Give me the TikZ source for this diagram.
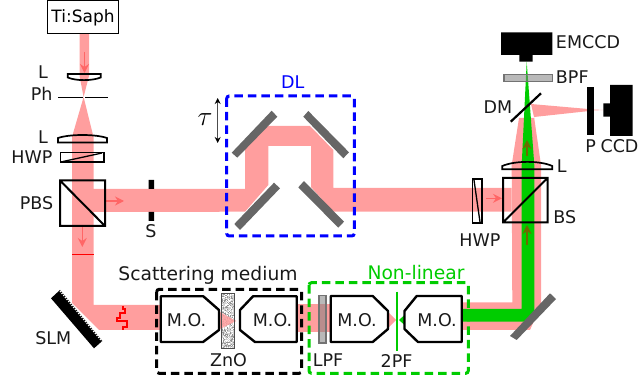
\documentclass[tikz,border=0pt]{standalone}
\usepackage{fontspec}
\setmainfont{DejaVu Sans}
\usetikzlibrary{arrows.meta}
\definecolor{beam}{HTML}{FF9E9E}
\definecolor{grn}{HTML}{00CC00}
\definecolor{arrowred}{HTML}{FF6666}
\definecolor{mirrorgray}{HTML}{666666}
\definecolor{olive}{HTML}{6B6B00}
\tikzset{
 x=1pt,y=-1pt,
 lbl/.style={inner sep=0pt,font=\fontsize{17.5}{18}\selectfont,text=black!90},
 biglbl/.style={inner sep=0pt,font=\fontsize{18.7}{19}\selectfont,text=black!90},
 optic/.style={draw=black,line width=2pt,fill=none,line join=miter},
 lens/.style={draw=black,line width=1.7pt,fill=none,line join=miter},
 mirror/.style={fill=mirrorgray,draw=none},
 beamfill/.style={fill=beam,draw=none},
 greenfill/.style={fill=grn,draw=none},
 mo/.style={draw=black,line width=2.4pt,line join=round},
 inbeam/.style={draw=arrowred,line width=1.4pt,-{Stealth[length=9pt,width=9pt,inset=3pt]}},
 upbeam/.style={draw=olive,line width=1.4pt,-{Stealth[length=9pt,width=9pt,inset=3pt]}},
 filt/.style={draw=gray!90!black,line width=1.2pt,fill=gray,fill opacity=.55},
 dbox/.style={line width=3pt,dash pattern=on 8.5pt off 5pt,rounded corners=2.5pt},
}
\begin{document}
\begin{tikzpicture}
\useasboundingbox (0,0) rectangle (641,385);
% beams
\fill[beamfill] (79.5,34) -- (89,34) -- (89,76) -- (83.6,97) -- (93.5,137) -- (93.5,189) -- (245,189)
  -- (245,148) -- (268,126) -- (310,126) -- (333.3,150) -- (333.3,188) -- (511.7,188)
  -- (511.7,211.7) -- (333,211.7) -- (311,187) -- (311,146) -- (268.3,146) -- (268.3,185) -- (245,211.7)
  -- (93.5,212) -- (93.5,305) -- (160,305) -- (160,330) -- (99,330) -- (72,303) -- (72,137) -- (83.6,97) -- (79.5,76) -- cycle;
\fill[beamfill] (218,312) -- (236,321) -- (218,329) -- cycle;
\fill[beamfill] (297,304) -- (331,304) -- (331,332) -- (297,332) -- cycle;
\fill[beamfill] (388,312) -- (396,320) -- (388,328) -- cycle;
\fill[beamfill] (462,302.3) -- (512.3,302.3) -- (511.7,165) -- (519,118) -- (534,118) -- (534,116.5)
  -- (541,165) -- (541,305) -- (530,330) -- (462,330) -- cycle;
\fill[beamfill] (531,104) -- (594,109.5) -- (603,110) -- (594,110.5) -- (534,117) -- cycle;
\fill[greenfill] (462,309) -- (521.7,309) -- (521.7,165) -- (526.7,61.7) -- (534.3,165) -- (534.3,316) -- (529,321.7) -- (462,321.7) -- cycle;
\fill[greenfill] (404.5,315) -- (404.5,325) -- (399,320) -- cycle;
% in-beam arrows
\path (84.5,52) coordinate (a1s) (84.5,73) coordinate (a1e)
      (106,201) coordinate (a2s) (124,201) coordinate (a2e)
      (82.3,227) coordinate (a3s) (82.3,247) coordinate (a3e)
      (486,198.3) coordinate (a4s) (502,198.3) coordinate (a4e)
      (527,156) coordinate (a5s) (527,140) coordinate (a5e)
      (527,245) coordinate (a6s) (527,225) coordinate (a6e);
\draw[inbeam] (a1s) -- (a1e);
\draw[inbeam] (a2s) -- (a2e);
\draw[inbeam] (a3s) -- (a3e);
\draw[inbeam] (a4s) -- (a4e);
\draw[upbeam] (a5s) -- (a5e);
\draw[upbeam] (a6s) -- (a6e);
% source
\node[draw=black,line width=1pt,fill=white,minimum width=71pt,minimum height=33pt,inner sep=0pt,anchor=center,font=\fontsize{17}{18}\selectfont] (src) at (83,17.5) {Ti:Saph};
% lenses
\draw[lens] (67.7,74) -- (100.7,74) -- (100.7,77.5) .. controls (92,81) and (76,81) .. (67.7,77.5) -- cycle;
\draw[lens] (58,142.5) -- (107,142.5) -- (107,138) .. controls (95,134) and (70,134) .. (58,138) -- cycle;
\draw[lens] (502.3,169.3) -- (552.3,169.3) -- (552.3,166) .. controls (540,160.5) and (515,160.5) .. (502.3,166) -- cycle;
% pinhole
\draw[line width=.8pt] (58,97.3) -- (82.5,97.3) (85,97.3) -- (108,97.3);
% HWP
\draw[lens] (60.5,152.5) rectangle (104,162);
\draw[line width=1.3pt] (63,161.5) -- (102,153);
\draw[lens] (472.5,178.7) rectangle (482,223.3);
\draw[line width=1.3pt] (474,180) -- (480,222);
% PBS, BS
\draw[optic] (60,180.5) rectangle (105,226) (60,180.5) -- (105,226);
\draw[optic] (503,178) rectangle (547.5,222.5) (503,222.5) -- (547.5,178);
% shutter
\fill[black] (148.5,180) rectangle (154,189) (148.5,212) rectangle (154,221);
% waveplate line
\draw[red,line width=1.3pt] (72,254.5) -- (93.5,254.5);
% SLM
\fill[black] (51,298.3) -- (60,290) -- (102.3,341) -- (94,348.3) -- cycle;
\draw[white,line width=1.3pt,dash pattern=on 1.3pt off 1.3pt] (60,291) -- (101.7,341);
% pulse
\draw[red,line width=1.7pt,line join=miter] (122.7,306) -- (122.7,309) -- (125,309) -- (125,312.7) -- (120,312.7) -- (120,317.7) -- (117.3,317.7) -- (117.3,321) -- (127.3,321) -- (127.3,326.7) -- (123.3,326.7) -- (123.3,330);
% DL mirrors
\fill[mirror] (231.7,152.7) -- (237.3,157.7) -- (277.3,116.7) -- (271.7,110.7) -- cycle;
\fill[mirror] (303.3,116.7) -- (308.3,111) -- (349,152.3) -- (343.3,158.3) -- cycle;
\fill[mirror] (234.3,224) -- (240,230) -- (280,188.3) -- (274,182.7) -- cycle;
\fill[mirror] (298.3,187.3) -- (304,181) -- (344,221.7) -- (338.3,227.7) -- cycle;
\fill[mirror] (510,336) -- (516.7,340) -- (556,299) -- (550,293.3) -- cycle;
% tau
\draw[gray!60!black,line width=1pt,{Stealth[length=6pt,width=6pt,black]}-{Stealth[length=6pt,width=6pt,black]}] (217.7,98) -- (217.7,143);
\node[inner sep=0pt,font=\fontsize{17}{18}\selectfont,scale=1.6] (tau) at (205,120) {$\tau$};
% ZnO
\fill[gray!35] (221.7,293.3) rectangle (234.3,348.3);
\pgfmathsetseed{7}
\foreach \i in {1,...,260}{
  \pgfmathsetmacro{\px}{221.7+rnd*11.6}
  \pgfmathsetmacro{\py}{293.3+rnd*54}
  \fill[gray!85] (\px,\py) rectangle +(1,1);
}
\foreach \i in {1,...,200}{
  \pgfmathsetmacro{\px}{221.7+rnd*11.6}
  \pgfmathsetmacro{\py}{293.3+rnd*54}
  \fill[white] (\px,\py) rectangle +(1,1);
}
\fill[beam,opacity=.85] (220,312) -- (236,321) -- (220,329) -- cycle;
\draw[black!70,line width=1pt] (221.7,293.3) rectangle (234.3,348.3);
% Objectives
\draw[mo] (160.7,296.3) -- (203.3,296.3) -- (219,310) -- (219,330) -- (203,342) -- (160.7,342) -- cycle;
\draw[mo] (296.7,296.3) -- (253,296.3) -- (240,310) -- (240,330) -- (255,342) -- (296.7,342) -- cycle;
\draw[mo] (330.7,296) -- (372.7,296) -- (388,311) -- (388,329) -- (372.7,342) -- (330.7,342) -- cycle;
\draw[mo] (461.7,296) -- (416.7,296) -- (404.5,311) -- (404.5,329) -- (418,342) -- (461.7,342) -- cycle;
\node[lbl] (mo1) at (186.5,320) {M.O.};
\node[lbl] (mo2) at (272.5,320) {M.O.};
\node[lbl] (mo3) at (357,320) {M.O.};
\node[lbl] (mo4) at (437,320) {M.O.};
% LPF, 2PF
\draw[filt] (319,295.7) rectangle (326,343);
\draw[grn,line width=2pt] (397,291.7) -- (397,350.7);
% detectors
\fill[black] (501,32.3) rectangle (552.3,55) (519.3,55) rectangle (532.7,61.7);
\draw[filt] (504,74.3) rectangle (552.3,81.7);
\draw[line width=2.2pt] (510.7,121.7) -- (541,93.3);
\fill[black] (586.7,86.7) rectangle (594,135);
\fill[black] (610,85) rectangle (632.7,136) (603.3,103.3) rectangle (610,116.7);
% boxes
\draw[dbox,blue] (226.7,96) rectangle (354.3,236);
\draw[dbox,black] (156.7,289.3) rectangle (301.7,373.3);
\draw[dbox,grn] (309,282.7) rectangle (468.3,373.3);
% labels
\node[lbl] (l1) at (43,72) {L};
\node[lbl] (ph) at (41.7,94) {Ph};
\node[lbl] (l2) at (43,137) {L};
\node[lbl] (hwp1) at (32,157) {HWP};
\node[lbl] (pbs) at (36.5,203) {PBS};
\node[lbl] (s) at (151,231) {S};
\node[lbl] (slm) at (53.3,338) {SLM};
\node[biglbl] (scat) at (208,275) {Scattering medium};
\node[lbl] (zno) at (228.5,360.5) {ZnO};
\node[lbl] (lpf) at (328,360) {LPF};
\node[lbl] (tpf) at (396.5,361.5) {2PF};
\node[biglbl,text=grn] (nl) at (416,273) {Non-linear};
\node[lbl,text=blue] (dl) at (292.7,82) {DL};
\node[lbl] (hwp2) at (480,240) {HWP};
\node[lbl] (bs) at (564.7,216.7) {BS};
\node[lbl] (l3) at (561.7,165.7) {L};
\node[lbl] (dm) at (498,106.7) {DM};
\node[lbl] (bpf) at (572.3,77) {BPF};
\node[lbl] (em) at (588,42) {EMCCD};
\node[lbl] (p) at (590.7,146) {P};
\node[lbl] (ccd) at (619.5,146) {CCD};
\end{tikzpicture}
\end{document}
